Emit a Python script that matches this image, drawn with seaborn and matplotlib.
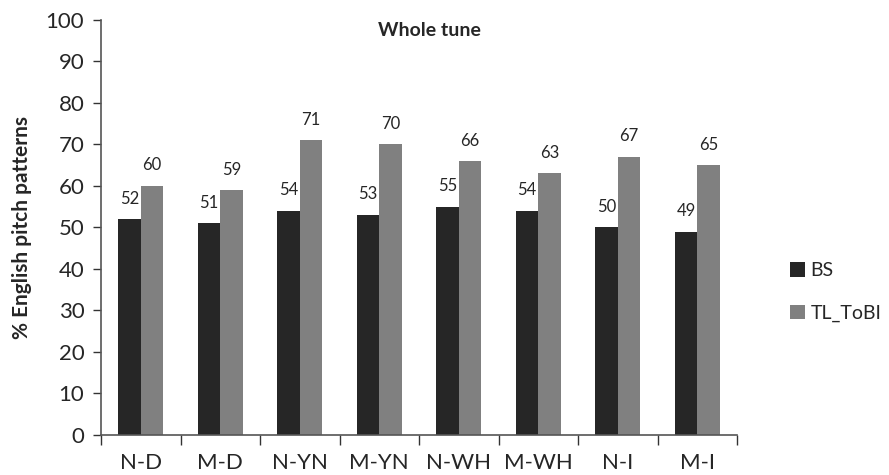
import numpy as np
import pandas as pd
import matplotlib
matplotlib.use("Agg")
import matplotlib.pyplot as plt
import seaborn as sns
from matplotlib.patches import Patch

categories = ["N-D", "M-D", "N-YN", "M-YN", "N-WH", "M-WH", "N-I", "M-I"]
bs_values = [52, 51, 54, 53, 55, 54, 50, 49]
tl_values = [60, 59, 71, 70, 66, 63, 67, 65]
series = ["BS", "TL_ToBI"]
colors = ["#262626", "#808080"]

df = pd.DataFrame({
    "Category": categories * 2,
    "Value": bs_values + tl_values,
    "Series": [series[0]] * len(categories) + [series[1]] * len(categories),
})

sns.set_style("white")
plt.rcParams["font.family"] = ["Lato", "DejaVu Sans"]

fig = plt.figure(figsize=(8.89, 4.75), dpi=100)
ax = fig.add_axes([0.1136, 0.0842, 0.7155, 0.874])

sns.barplot(data=df, x="Category", y="Value", hue="Series", palette=colors,
            width=0.57, saturation=1, edgecolor="none", legend=False, ax=ax)

for cont in ax.containers:
    ax.bar_label(cont, padding=9, fontsize=12)

ax.set_xlim(-0.5, len(categories) - 0.5)
ax.set_ylim(0, 100)
ax.set_yticks(range(0, 101, 10))
ax.tick_params(axis="y", labelsize=16, length=6, width=1, direction="out",
               left=True, color="#333333", pad=6)
ax.set_xticks(range(len(categories)))
ax.set_xticks(np.arange(-0.5, len(categories), 1), minor=True)
ax.tick_params(axis="x", which="major", length=0, labelsize=16, pad=13)
ax.tick_params(axis="x", which="minor", length=7, width=1, direction="out",
               bottom=True, color="#333333")
ax.set_xlabel("")
ax.set_ylabel("% English pitch patterns", fontsize=15, fontweight="bold", labelpad=10)

for s in ["top", "right"]:
    ax.spines[s].set_visible(False)
for s in ["left", "bottom"]:
    ax.spines[s].set_color("#555555")
    ax.spines[s].set_linewidth(1.2)

ax.text(0.517, 0.975, "Whole tune", transform=ax.transAxes, ha="center",
        va="center", fontsize=14, fontweight="bold")

handles = [Patch(facecolor=c, edgecolor="none", label=l) for c, l in zip(colors, series)]
fig.legend(handles=handles, loc="center left", bbox_to_anchor=(0.889, 0.385),
           frameon=False, fontsize=14, handlelength=0.75, handleheight=0.75,
           handletextpad=0.3, labelspacing=1.3, borderpad=0, borderaxespad=0)

fig.savefig("out.png", dpi=100)
